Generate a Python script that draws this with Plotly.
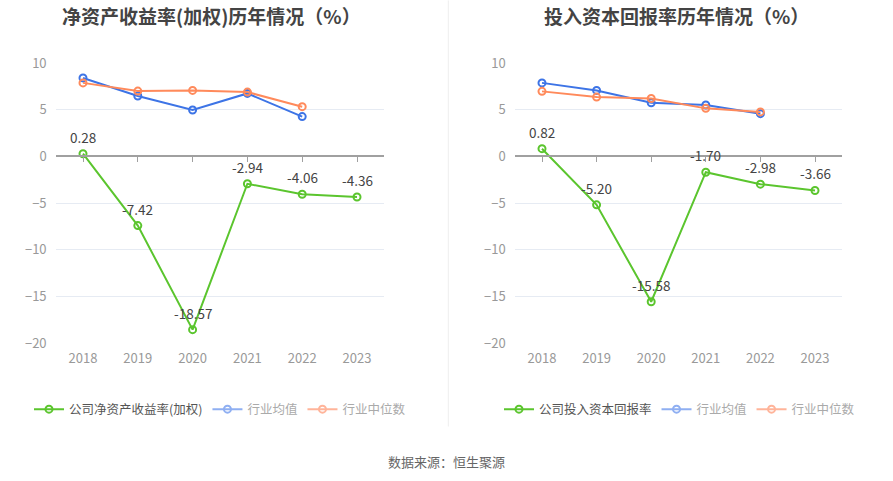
import plotly.graph_objects as go

years = ["2018", "2019", "2020", "2021", "2022", "2023"]

roe_company = [0.28, -7.42, -18.57, -2.94, -4.06, -4.36]
roe_avg = [8.40, 6.46, 4.97, 6.74, 4.26, None]
roe_median = [7.87, 6.99, 7.06, 6.88, 5.32, None]

roic_company = [0.82, -5.20, -15.58, -1.70, -2.98, -3.66]
roic_avg = [7.87, 7.06, 5.74, 5.50, 4.57, None]
roic_median = [6.96, 6.35, 6.20, 5.14, 4.76, None]

titles = ["净资产收益率(加权)历年情况（%）", "投入资本回报率历年情况（%）"]
company_names = ["公司净资产收益率(加权)", "公司投入资本回报率"]
avg_name = "行业均值"
median_name = "行业中位数"
source_text = "数据来源：恒生聚源"
y_ticks = [10, 5, 0, -5, -10, -15, -20]

W, H = 893, 481
T, B = 62.7, 481 - 343.3
FONT = "Noto Sans CJK SC"

GREEN = "#5BC52E"
BLUE = "#3D74E6"
ORANGE = "#FF8A5B"
BLUE_L = "#8FAFF2"
ORANGE_L = "#FFB49A"


def px(xpx):
    return xpx / W


def py(ypx):
    return (H - B - ypx) / (H - T - B)


xi = list(range(len(years)))
fig = go.Figure()

domains = [[px(55.6), px(384.4)], [px(514.7), px(842.3)]]
legend_x = [px(29), px(499)]
title_x = [px(211.5), px(676)]

panels = [
    (roe_company, roe_avg, roe_median),
    (roic_company, roic_avg, roic_median),
]

for i, (comp, avg, med) in enumerate(panels):
    n = i + 1
    xa = "x" if n == 1 else f"x{n}"
    ya = "y" if n == 1 else f"y{n}"
    lg = "legend" if n == 1 else f"legend{n}"
    mk = dict(symbol="circle-open", size=7, line=dict(width=2))
    fig.add_trace(go.Scatter(x=xi, y=avg, mode="lines+markers", xaxis=xa, yaxis=ya,
                             line=dict(color=BLUE, width=2), marker=dict(color=BLUE, **mk),
                             showlegend=False, hoverinfo="skip"))
    fig.add_trace(go.Scatter(x=xi, y=med, mode="lines+markers", xaxis=xa, yaxis=ya,
                             line=dict(color=ORANGE, width=2), marker=dict(color=ORANGE, **mk),
                             showlegend=False, hoverinfo="skip"))
    fig.add_trace(go.Scatter(x=xi, y=comp, mode="lines+markers", xaxis=xa, yaxis=ya,
                             line=dict(color=GREEN, width=2), marker=dict(color=GREEN, **mk),
                             showlegend=False, hoverinfo="skip"))
    for xv, v in zip(xi, comp):
        fig.add_annotation(x=xv, y=v, xref=xa, yref=ya, text=f"{v:.2f}", showarrow=False,
                           yshift=17, font=dict(size=13.5, color="#444", family=FONT))
    # legend entries
    fig.add_trace(go.Scatter(x=[None], y=[None], mode="lines+markers", xaxis=xa, yaxis=ya,
                             name=f"<span style='color:#555'>{company_names[i]}</span>",
                             line=dict(color=GREEN, width=2), marker=dict(color=GREEN, **mk),
                             legend=lg))
    fig.add_trace(go.Scatter(x=[None], y=[None], mode="lines+markers", xaxis=xa, yaxis=ya,
                             name=f"<span style='color:#aaa'>{avg_name}</span>",
                             line=dict(color=BLUE_L, width=2), marker=dict(color=BLUE_L, **mk),
                             legend=lg))
    fig.add_trace(go.Scatter(x=[None], y=[None], mode="lines+markers", xaxis=xa, yaxis=ya,
                             name=f"<span style='color:#aaa'>{median_name}</span>",
                             line=dict(color=ORANGE_L, width=2), marker=dict(color=ORANGE_L, **mk),
                             legend=lg))
    # dummy trace for the zero-line axis
    za = f"x{n + 2}"
    fig.add_trace(go.Scatter(x=xi, y=[None] * len(xi), xaxis=za, yaxis=ya,
                             showlegend=False, hoverinfo="skip", mode="lines"))

    xkey = "xaxis" if n == 1 else f"xaxis{n}"
    ykey = "yaxis" if n == 1 else f"yaxis{n}"
    fig.update_layout(**{
        xkey: dict(domain=domains[i], anchor=ya, range=[-0.5, len(years) - 0.5],
                   tickvals=xi, ticktext=years, showgrid=False, zeroline=False,
                   showline=False, ticks="", ticklabelstandoff=6,
                   tickfont=dict(size=13, color="#999", family=FONT)),
        ykey: dict(domain=[0, 1], anchor=xa, range=[-20, 10], tickvals=y_ticks,
                   showgrid=True, gridcolor="#E6EBF3", gridwidth=1, zeroline=False,
                   showline=False, ticks="", ticklabelstandoff=8,
                   tickfont=dict(size=13, color="#999", family=FONT)),
        f"xaxis{n + 2}": dict(overlaying=xa, anchor="free", position=20 / 30,
                              domain=domains[i],
                              range=[-0.5, len(years) - 0.5], tickvals=xi,
                              showticklabels=False, showgrid=False, zeroline=False,
                              showline=True, linecolor="#A0A0A0", linewidth=2,
                              ticks="outside", ticklen=5, tickcolor="#A0A0A0", tickwidth=1),
        lg: dict(orientation="h", x=legend_x[i], y=py(410), xanchor="left", yanchor="middle",
                 font=dict(size=12.5, family=FONT, color="#555"), itemwidth=30,
                 bgcolor="rgba(0,0,0,0)", tracegroupgap=0),
    })
    fig.add_annotation(text=f"<b>{titles[i]}</b>", xref="paper", yref="paper",
                       x=title_x[i], y=py(15.5), xanchor="center", yanchor="middle",
                       showarrow=False, borderpad=0,
                       font=dict(size=19, color="#444", family=FONT))

fig.add_annotation(text=source_text, xref="paper", yref="paper", x=px(446.5), y=py(462),
                   xanchor="center", yanchor="middle", showarrow=False,
                   font=dict(size=13, color="#666", family=FONT))

fig.add_shape(type="line", xref="paper", yref="paper", x0=px(448.3), x1=px(448.3),
              y0=py(0), y1=py(427), line=dict(color="#EEEEEE", width=1))

fig.update_layout(width=W, height=H, margin=dict(l=0, r=0, t=T, b=B),
                  paper_bgcolor="white", plot_bgcolor="white",
                  font=dict(family=FONT), hovermode=False)

fig.write_html("out.html", config={"displayModeBar": False, "staticPlot": True},
               post_script="document.body.style.margin='0';")
